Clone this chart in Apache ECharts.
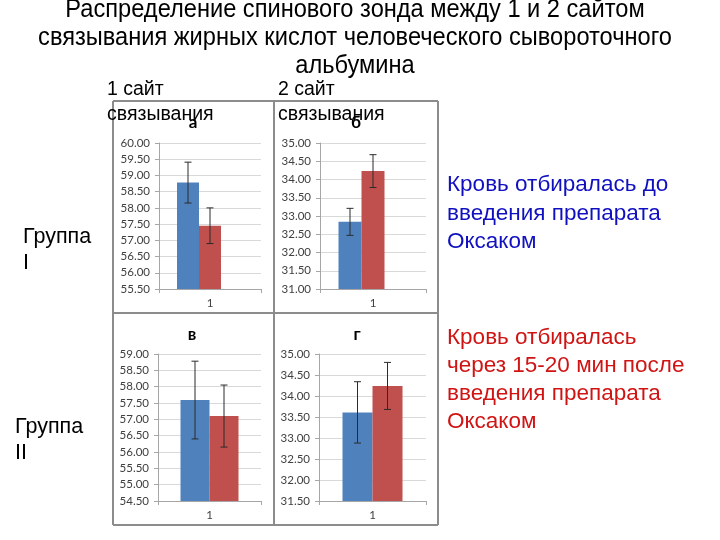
<!DOCTYPE html>
<html>
<head>
<meta charset="utf-8">
<script src="https://cdn.jsdelivr.net/npm/echarts@6/dist/echarts.min.js"></script>
<style>
  html, body { margin: 0; padding: 0; background: #fff; }
  #chart { width: 720px; height: 540px; }
</style>
</head>
<body>
<div id="chart"></div>
<script>
// data
const categories = ['1'];
const panelTitles = ['а', 'б', 'в', 'г'];
const blueValues = [58.78, 32.84, 57.59, 33.61];
const blueErrors = [0.63, 0.37, 1.19, 0.73];
const redValues = [57.45, 34.23, 57.10, 34.24];
const redErrors = [0.55, 0.45, 0.95, 0.56];
const yMins = [55.5, 31.0, 54.5, 31.5];
const yMaxs = [60.0, 35.0, 59.0, 35.0];
const yStep = 0.5;

const BLUE = '#4f81bd';
const RED = '#c0504d';

// panel grids (pixels)
const grids = [
  { left: 159, top: 143, width: 102, height: 146 },
  { left: 320, top: 143, width: 106, height: 146 },
  { left: 158, top: 354, width: 103, height: 147 },
  { left: 319, top: 354, width: 107, height: 147 }
];
// top panels leave an empty third slot, bottom ones are centred
const barWidths = [22, 23, 29, 30];
const hasSpareSlot = [true, true, false, false];

const chart = echarts.init(document.getElementById('chart'));

const xAxes = [], yAxes = [], series = [];
grids.forEach((g, i) => {
  xAxes.push({
    type: 'category', gridIndex: i, data: categories,
    axisLine: { lineStyle: { color: '#a6a6a6' } },
    axisTick: { show: true, length: 4, lineStyle: { color: '#a6a6a6' } },
    axisLabel: { color: '#404040', fontSize: 11.5, fontFamily: 'Lato', margin: 8 }
  });
  yAxes.push({
    type: 'value', gridIndex: i, min: yMins[i], max: yMaxs[i], interval: yStep,
    axisLine: { show: true, lineStyle: { color: '#a6a6a6' } },
    axisTick: { show: true, length: 4, lineStyle: { color: '#a6a6a6' } },
    splitLine: { lineStyle: { color: '#d9d9d9' } },
    axisLabel: { color: '#404040', fontSize: 11.5, fontFamily: 'Lato', margin: 9,
      formatter: v => v.toFixed(2) }
  });
  const bw = barWidths[i];
  series.push({
    type: 'bar', xAxisIndex: i, yAxisIndex: i, barWidth: bw, barGap: 0,
    itemStyle: { color: BLUE }, data: [blueValues[i]], z: 2
  });
  series.push({
    type: 'bar', xAxisIndex: i, yAxisIndex: i, barWidth: bw, barGap: 0,
    itemStyle: { color: RED }, data: [redValues[i]], z: 2
  });
  if (hasSpareSlot[i]) {
    series.push({
      type: 'bar', xAxisIndex: i, yAxisIndex: i, barWidth: bw, barGap: 0,
      data: ['-'], silent: true
    });
  }
  const offs = hasSpareSlot[i] ? [-bw, 0] : [-bw / 2, bw / 2];
  const vals = [blueValues[i], redValues[i]];
  const errs = [blueErrors[i], redErrors[i]];
  series.push({
    type: 'custom', xAxisIndex: i, yAxisIndex: i, z: 5,
    data: [0, 1],
    renderItem: (params, api) => {
      const k = api.value(0);
      const top = api.coord([0, vals[k] + errs[k]]);
      const bot = api.coord([0, vals[k] - errs[k]]);
      const x = top[0] + offs[k];
      const cap = 3.5;
      const st = { stroke: '#2b2b2b', lineWidth: 1 };
      return {
        type: 'group',
        children: [
          { type: 'line', shape: { x1: x, y1: top[1], x2: x, y2: bot[1] }, style: st },
          { type: 'line', shape: { x1: x - cap, y1: top[1], x2: x + cap, y2: top[1] }, style: st },
          { type: 'line', shape: { x1: x - cap, y1: bot[1], x2: x + cap, y2: bot[1] }, style: st }
        ]
      };
    }
  });
});

const txt = (x, y, text, size, color, extra, scaleX) => ({
  type: 'text', x: x, y: y, z: 10, scaleX: scaleX || 1,
  style: Object.assign({ text: text, fontSize: size, fill: color,
    fontFamily: 'Liberation Sans', textVerticalAlign: 'middle' }, extra || {})
});

const titleLines = [
  'Распределение спинового зонда между 1 и 2 сайтом',
  'связывания жирных кислот человеческого сывороточного',
  'альбумина'
];
const blueNote = ['Кровь отбиралась до', 'введения препарата', 'Оксаком'];
const redNote = ['Кровь отбиралась', 'через 15-20 мин после', 'введения препарата', 'Оксаком'];

const graphics = [];
const lineStyle = { stroke: '#8c8c8c', lineWidth: 2 };
[[113, 101, 438, 101], [113, 525, 438, 525], [113, 101, 113, 525], [438, 101, 438, 525],
 [274, 101, 274, 525], [113, 313, 438, 313]].forEach(l => {
  graphics.push({ type: 'line', z: 1, shape: { x1: l[0], y1: l[1], x2: l[2], y2: l[3] }, style: lineStyle });
});
titleLines.forEach((t, i) => graphics.push(txt(355, 10 + i * 28, t, 25, '#000', { textAlign: 'center' }, 0.945)));
graphics.push(txt(107, 90, '1 сайт', 19.5, '#000'));
graphics.push(txt(107, 115, 'связывания', 19.5, '#000'));
graphics.push(txt(278, 90, '2 сайт', 19.5, '#000'));
graphics.push(txt(278, 115, 'связывания', 19.5, '#000'));
const letterPos = [[193, 123], [356, 123], [192, 335], [357, 335]];
panelTitles.forEach((t, i) => graphics.push(txt(letterPos[i][0], letterPos[i][1], t, 17, '#000',
  { textAlign: 'center', fontWeight: 'bold', fontFamily: 'Lato' })));
blueNote.forEach((t, i) => graphics.push(txt(447, 185 + i * 28.5, t, 22.5, '#1010c0')));
redNote.forEach((t, i) => graphics.push(txt(447, 338 + i * 28, t, 22.5, '#d01414')));
graphics.push(txt(23, 237, 'Группа', 21.5, '#000'));
graphics.push(txt(23, 263, 'I', 21.5, '#000'));
graphics.push(txt(15, 427, 'Группа', 21.5, '#000'));
graphics.push(txt(15, 453, 'II', 21.5, '#000'));

chart.setOption({
  animation: false,
  grid: grids,
  xAxis: xAxes,
  yAxis: yAxes,
  series: series,
  graphic: graphics
});
</script>
</body>
</html>
